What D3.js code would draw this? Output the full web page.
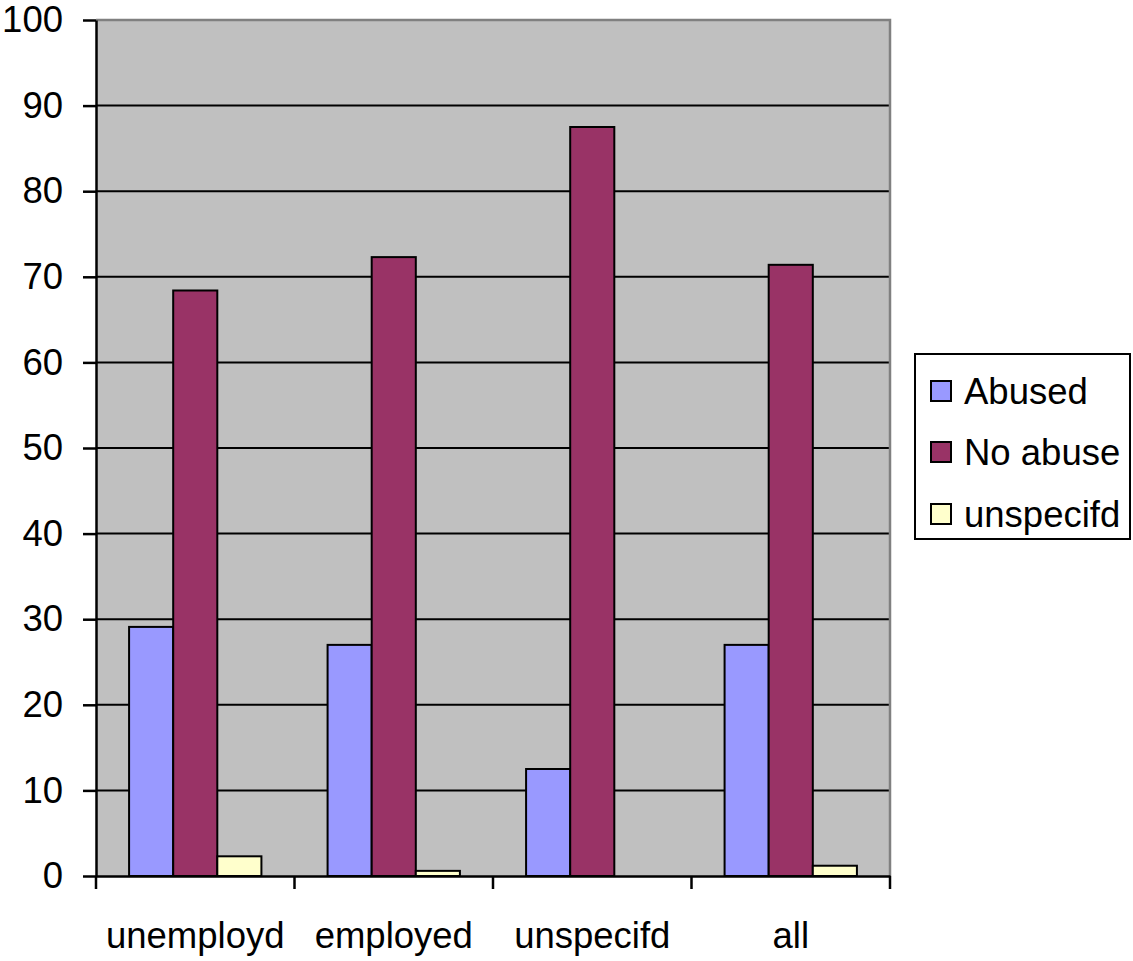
<!DOCTYPE html>
<html>
<head>
<meta charset="utf-8">
<script src="https://cdn.jsdelivr.net/npm/d3@7"></script>
<style>
  html, body { margin: 0; padding: 0; background: #fff; }
  svg { display: block; font-family: "Liberation Sans", Arial, sans-serif; }
</style>
</head>
<body>
<svg id="chart" width="1133" height="961"></svg>
<script>
// Categories and series values (percent)
const categories = ["unemployd", "employed", "unspecifd", "all"];
const seriesNames = ["Abused", "No abuse", "unspecifd"];
const abused = [29.1, 27.0, 12.5, 27.0];
const noAbuse = [68.4, 72.3, 87.5, 71.4];
const unspecified = [2.3, 0.6, 0.0, 1.2];
const yTicks = [0, 10, 20, 30, 40, 50, 60, 70, 80, 90, 100];
const colors = ["#9999FF", "#993366", "#FFFFCC"];

(function () {
  const seriesValues = [abused, noAbuse, unspecified];
  const fontSize = 36.5;

  const svg = d3.select("#chart");
  const plotLeft = 96, plotRight = 890, plotTop = 20, plotBottom = 876;

  const x = d3.scaleBand().domain(categories).range([plotLeft, plotRight]).paddingInner(0).paddingOuter(0);
  const bandW = x.bandwidth();
  const barW = bandW / 4.5;
  const x1 = d3.scaleBand().domain(seriesNames).range([0.75 * barW, 3.75 * barW]);
  const y = d3.scaleLinear().domain([0, 100]).range([plotBottom, plotTop]);

  // plot background
  svg.append("rect").attr("x", plotLeft).attr("y", plotTop)
    .attr("width", plotRight - plotLeft).attr("height", plotBottom - plotTop)
    .attr("fill", "#C0C0C0");

  // gridlines
  svg.append("g").selectAll("line").data(yTicks.filter(d => d > 0 && d < 100)).join("line")
    .attr("x1", plotLeft).attr("x2", plotRight).attr("y1", d => y(d)).attr("y2", d => y(d))
    .attr("stroke", "#000").attr("stroke-width", 2);

  // plot border (top and right)
  svg.append("path").attr("d", `M${plotLeft},${plotTop}H${plotRight}V${plotBottom}`)
    .attr("fill", "none").attr("stroke", "#808080").attr("stroke-width", 2.5);

  // bars
  const groups = svg.append("g").selectAll("g").data(categories).join("g")
    .attr("transform", d => `translate(${x(d)},0)`);
  groups.selectAll("rect")
    .data((c, ci) => seriesNames.map((s, si) => ({ s, si, v: seriesValues[si][ci] })).filter(d => d.v > 0))
    .join("rect")
    .attr("x", d => x1(d.s))
    .attr("y", d => y(d.v))
    .attr("width", x1.bandwidth())
    .attr("height", d => y(0) - y(d.v))
    .attr("fill", d => colors[d.si])
    .attr("stroke", "#000").attr("stroke-width", 2);

  // y axis
  const yAxis = svg.append("g").attr("transform", `translate(${plotLeft},0)`)
    .call(d3.axisLeft(y).tickValues(yTicks).tickSize(13).tickPadding(20).tickSizeOuter(0));
  yAxis.select(".domain").attr("stroke", "#000").attr("stroke-width", 2.5);
  yAxis.selectAll(".tick line").attr("stroke", "#000").attr("stroke-width", 2.5);
  yAxis.selectAll(".tick text").attr("font-size", fontSize).attr("fill", "#000")
    .attr("font-family", "Liberation Sans, Arial, sans-serif");

  // x axis
  const xAxis = svg.append("g").attr("transform", `translate(0,${plotBottom})`)
    .call(d3.axisBottom(x).tickSize(0).tickPadding(0).tickSizeOuter(0));
  xAxis.select(".domain").attr("stroke", "#000").attr("stroke-width", 2.5);
  xAxis.selectAll(".tick text").attr("font-size", fontSize).attr("fill", "#000")
    .attr("font-family", "Liberation Sans, Arial, sans-serif")
    .attr("dy", null).attr("y", 72);
  // category boundary ticks
  const bounds = categories.map(c => x(c)).concat([plotRight]);
  svg.append("g").selectAll("line").data(bounds).join("line")
    .attr("x1", d => d).attr("x2", d => d).attr("y1", plotBottom).attr("y2", plotBottom + 13)
    .attr("stroke", "#000").attr("stroke-width", 2.5);

  // legend
  const legend = svg.append("g");
  legend.append("rect").attr("x", 915).attr("y", 354).attr("width", 215).attr("height", 185)
    .attr("fill", "#fff").attr("stroke", "#000").attr("stroke-width", 2);
  const rowY = [391, 452, 514];
  seriesNames.forEach((name, i) => {
    legend.append("rect").attr("x", 931).attr("y", rowY[i] - 10).attr("width", 20).attr("height", 20)
      .attr("fill", colors[i]).attr("stroke", "#000").attr("stroke-width", 2);
    legend.append("text").attr("x", 964).attr("y", rowY[i]).attr("dy", "0.35em")
      .attr("font-size", fontSize).attr("fill", "#000").text(name);
  });
})();
</script>
</body>
</html>
